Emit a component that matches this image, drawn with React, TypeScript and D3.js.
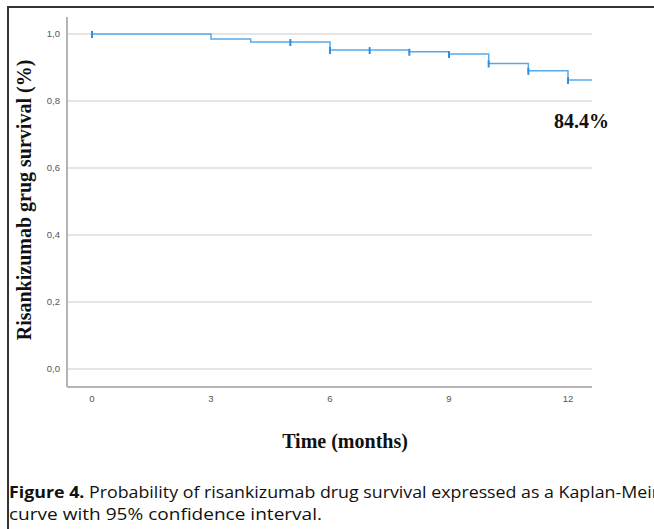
import React, { useEffect, useRef } from 'react';
import * as d3 from 'd3';

// Kaplan-Meier steps
const stepTimes = [0, 3, 4, 6, 8, 9, 10, 11, 12];
const stepSurvival = [1.0, 0.985, 0.976, 0.952, 0.947, 0.94, 0.912, 0.89, 0.863];
const lastTime = 12.6;
const censorTimes = [0, 5, 6, 7, 8, 9, 10, 11, 12];

const xTicks = [0, 3, 6, 9, 12];
const yTicks = [0, 0.2, 0.4, 0.6, 0.8, 1.0];

function survivalAt(t: number) {
  let s = stepSurvival[0];
  stepTimes.forEach((st, i) => { if (st <= t) s = stepSurvival[i]; });
  return s;
}

export default function App() {
  const ref = useRef<SVGSVGElement>(null);

  useEffect(() => {
    const svg = d3.select(ref.current);
    svg.selectAll('*').remove();

    const x = d3.scaleLinear().domain([0, 12]).range([92, 568]);
    const y = d3.scaleLinear().domain([0, 1]).range([369, 34]);
    const left = 67, right = 592, top = 17, bottom = 387;

    // frame
    svg.append('path')
      .attr('d', 'M8,529 L8,7 L654,7')
      .attr('fill', 'none')
      .attr('stroke', '#333')
      .attr('stroke-width', 2);

    // gridlines
    svg.append('g').selectAll('line')
      .data(yTicks)
      .enter().append('line')
      .attr('x1', left).attr('x2', right)
      .attr('y1', d => y(d)).attr('y2', d => y(d))
      .attr('stroke', '#dcdcdc')
      .attr('stroke-width', 1.5);

    // axes lines
    svg.append('line')
      .attr('x1', left).attr('x2', left).attr('y1', top).attr('y2', bottom)
      .attr('stroke', '#b4b4b4').attr('stroke-width', 2);
    svg.append('line')
      .attr('x1', left).attr('x2', right).attr('y1', bottom).attr('y2', bottom)
      .attr('stroke', '#b4b4b4').attr('stroke-width', 2);

    // tick labels
    svg.append('g').selectAll('text')
      .data(yTicks)
      .enter().append('text')
      .attr('x', 60)
      .attr('y', d => y(d))
      .attr('dy', '0.35em')
      .attr('text-anchor', 'end')
      .style('font', '9.5px "Liberation Sans", Arial, sans-serif')
      .attr('fill', '#555')
      .text(d => d3.format('.1f')(d).replace('.', ','));

    svg.append('g').selectAll('text')
      .data(xTicks)
      .enter().append('text')
      .attr('x', d => x(d))
      .attr('y', 399)
      .attr('dy', '0.35em')
      .attr('text-anchor', 'middle')
      .style('font', '9.5px "Liberation Sans", Arial, sans-serif')
      .attr('fill', '#555')
      .text(d => d);

    // survival curve
    const pts: [number, number][] = stepTimes.map((t, i) => [t, stepSurvival[i]]);
    pts.push([lastTime, stepSurvival[stepSurvival.length - 1]]);
    const line = d3.line<[number, number]>()
      .x(d => x(d[0]))
      .y(d => y(d[1]))
      .curve(d3.curveStepAfter);
    svg.append('path')
      .datum(pts)
      .attr('d', line)
      .attr('fill', 'none')
      .attr('stroke', '#55aaee')
      .attr('stroke-width', 1.5);

    // censor marks
    svg.append('g').selectAll('line')
      .data(censorTimes)
      .enter().append('line')
      .attr('x1', d => x(d)).attr('x2', d => x(d))
      .attr('y1', d => y(survivalAt(d)) - 3)
      .attr('y2', d => y(survivalAt(d)) + 4)
      .attr('stroke', '#2f8fe0')
      .attr('stroke-width', 2);

    // annotation
    svg.append('text')
      .attr('x', 609).attr('y', 128)
      .attr('text-anchor', 'end')
      .style('font', 'bold 20px "Liberation Serif", serif')
      .attr('fill', '#111')
      .text('84.4%');

    // axis titles
    svg.append('text')
      .attr('transform', 'translate(31,200) rotate(-90)')
      .attr('text-anchor', 'middle')
      .style('font', 'bold 20px "Liberation Serif", serif')
      .attr('fill', '#111')
      .text('Risankizumab grug survival (%)');

    svg.append('text')
      .attr('x', 345).attr('y', 448)
      .attr('text-anchor', 'middle')
      .style('font', 'bold 20px "Liberation Serif", serif')
      .attr('fill', '#111')
      .text('Time (months)');

    // caption
    const cap1 = svg.append('text')
      .attr('x', 9).attr('y', 498)
      .attr('textLength', 650)
      .attr('lengthAdjust', 'spacingAndGlyphs')
      .style('font', '16.5px "Open Sans", "Liberation Sans", sans-serif')
      .attr('fill', '#111');
    cap1.append('tspan').style('font-weight', 'bold').text('Figure 4.');
    cap1.append('tspan').text(' Probability of risankizumab drug survival expressed as a Kaplan-Meir');

    svg.append('text')
      .attr('x', 9).attr('y', 520)
      .attr('textLength', 313)
      .attr('lengthAdjust', 'spacingAndGlyphs')
      .style('font', '16.5px "Open Sans", "Liberation Sans", sans-serif')
      .attr('fill', '#111')
      .text('curve with 95% confidence interval.');
  }, []);

  return (
    <svg ref={ref} width={654} height={529}
      style={{ position: 'absolute', left: 0, top: 0, background: '#fff' }} />
  );
}
